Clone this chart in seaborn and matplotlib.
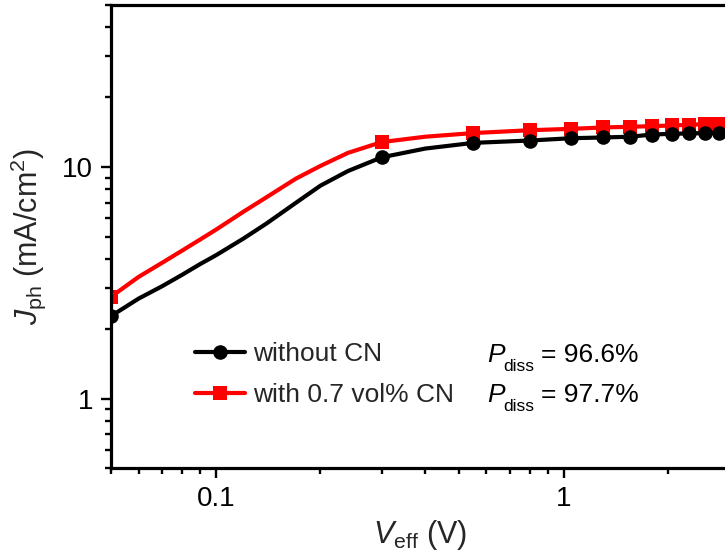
import numpy as np
import matplotlib
matplotlib.use("Agg")
import matplotlib.pyplot as plt
from matplotlib.lines import Line2D
from matplotlib.ticker import LogLocator, FuncFormatter, NullFormatter
import seaborn as sns

# Effective voltage (V) and photocurrent density (mA/cm^2)
v_eff = [0.05, 0.06, 0.07, 0.08, 0.09, 0.10, 0.12, 0.14, 0.17, 0.20, 0.24,
         0.30, 0.40, 0.55, 0.80, 1.05, 1.30, 1.55, 1.80, 2.05, 2.30, 2.55, 2.80]
j_without_cn = [2.27, 2.70, 3.05, 3.42, 3.80, 4.15, 4.90, 5.70, 7.00, 8.30, 9.60,
                11.0, 12.0, 12.7, 13.0, 13.3, 13.4, 13.5, 13.8, 13.9, 13.95, 14.0, 14.05]
j_with_cn = [2.75, 3.35, 3.85, 4.35, 4.85, 5.35, 6.40, 7.40, 8.90, 10.1, 11.5,
             12.8, 13.5, 14.0, 14.4, 14.6, 14.8, 14.9, 15.0, 15.1, 15.2, 15.3, 15.3]
# Voltages carrying a symbol on each curve
marked_v = [0.05, 0.30, 0.55, 0.80, 1.05, 1.30, 1.55, 1.80, 2.05, 2.30, 2.55, 2.80]

series_labels = ["without CN", "with 0.7 vol% CN"]
p_diss_values = ["= 96.6%", "= 97.7%"]

sns.set_theme(style="ticks")
plt.rcParams["font.family"] = ["Liberation Sans", "DejaVu Sans"]
plt.rcParams["mathtext.fontset"] = "custom"
plt.rcParams["mathtext.rm"] = "Liberation Sans"
plt.rcParams["mathtext.it"] = "Liberation Sans:italic"
plt.rcParams["mathtext.bf"] = "Liberation Sans:bold"

W, H = 725, 559
fig = plt.figure(figsize=(W / 100, H / 100), dpi=100)
ax_left, ax_right, ax_top, ax_bottom = 111, 729.6, 5, 468.3
ax = fig.add_axes([ax_left / W, 1 - ax_bottom / H,
                   (ax_right - ax_left) / W, (ax_bottom - ax_top) / H])
ax.set_xscale("log")
ax.set_yscale("log")


def px_to_axes(px, py):
    """Pixel position on the canvas -> axes fraction."""
    return ((px - ax_left) / (ax_right - ax_left),
            (ax_bottom - py) / (ax_bottom - ax_top))


mark_idx = [i for i, v in enumerate(v_eff) if np.isclose(v, marked_v).any()]

line_kw = dict(linewidth=3.0, markeredgewidth=0, markevery=mark_idx,
               sort=False, estimator=None, ax=ax, legend=False)
sns.lineplot(x=v_eff, y=j_with_cn, color="#ff0000", marker="s", markersize=10,
             markeredgecolor="#ff0000", **line_kw)
sns.lineplot(x=v_eff, y=j_without_cn, color="black", marker="o", markersize=10.5,
             markeredgecolor="black", **line_kw)

ax.set_xlim(0.05, 3.0)
ax.set_ylim(0.5, 50)

# Axis styling
for side in ["left", "bottom", "top", "right"]:
    ax.spines[side].set_linewidth(2.3)
    ax.spines[side].set_color("black")
ax.xaxis.set_major_locator(LogLocator(base=10, numticks=10))
ax.xaxis.set_minor_locator(LogLocator(base=10, subs=np.arange(2, 10), numticks=20))
ax.yaxis.set_major_locator(LogLocator(base=10, numticks=10))
ax.yaxis.set_minor_locator(LogLocator(base=10, subs=np.arange(2, 10), numticks=20))
fmt = FuncFormatter(lambda v, p: f"{v:g}")
ax.xaxis.set_major_formatter(fmt)
ax.yaxis.set_major_formatter(fmt)
ax.xaxis.set_minor_formatter(NullFormatter())
ax.yaxis.set_minor_formatter(NullFormatter())
ax.tick_params(which="major", direction="out", length=7, width=1.7,
               labelsize=20, colors="black", pad=6)
ax.tick_params(which="minor", direction="out", length=4, width=1.7, colors="black")
ax.tick_params(top=False, right=False, which="both")

ax.set_xlabel(r"$V_{\mathrm{eff}}$ (V)", fontsize=22, labelpad=4)
ax.set_ylabel(r"$J_{\mathrm{ph}}$ (mA/cm$^2$)", fontsize=22, labelpad=10)

# Legend
handles = [
    Line2D([], [], color="black", linewidth=3.0, marker="o", markersize=10.5,
           markeredgewidth=0),
    Line2D([], [], color="#ff0000", linewidth=3.0, marker="s", markersize=10,
           markeredgewidth=0),
]
lx, ly = px_to_axes(195, 342)
ax.legend(handles, series_labels, loc="upper left", bbox_to_anchor=(lx, ly),
          frameon=False, fontsize=19, handlelength=1.9, handletextpad=0.3,
          labelspacing=0.66, borderpad=0, borderaxespad=0)

# Dissociation probabilities next to each legend entry
for val, base in zip(p_diss_values, [361.7, 401.7]):
    x, y = px_to_axes(487, base)
    ax.text(x, y, "P", transform=ax.transAxes, fontsize=19, style="italic",
            ha="left", va="baseline", color="black")
    x, y = px_to_axes(503, base + 9)
    ax.text(x, y, "diss", transform=ax.transAxes, fontsize=12.5,
            ha="left", va="baseline", color="black")
    x, y = px_to_axes(541, base)
    ax.text(x, y, val, transform=ax.transAxes, fontsize=19,
            ha="left", va="baseline", color="black")

fig.savefig("out.png", dpi=100)
